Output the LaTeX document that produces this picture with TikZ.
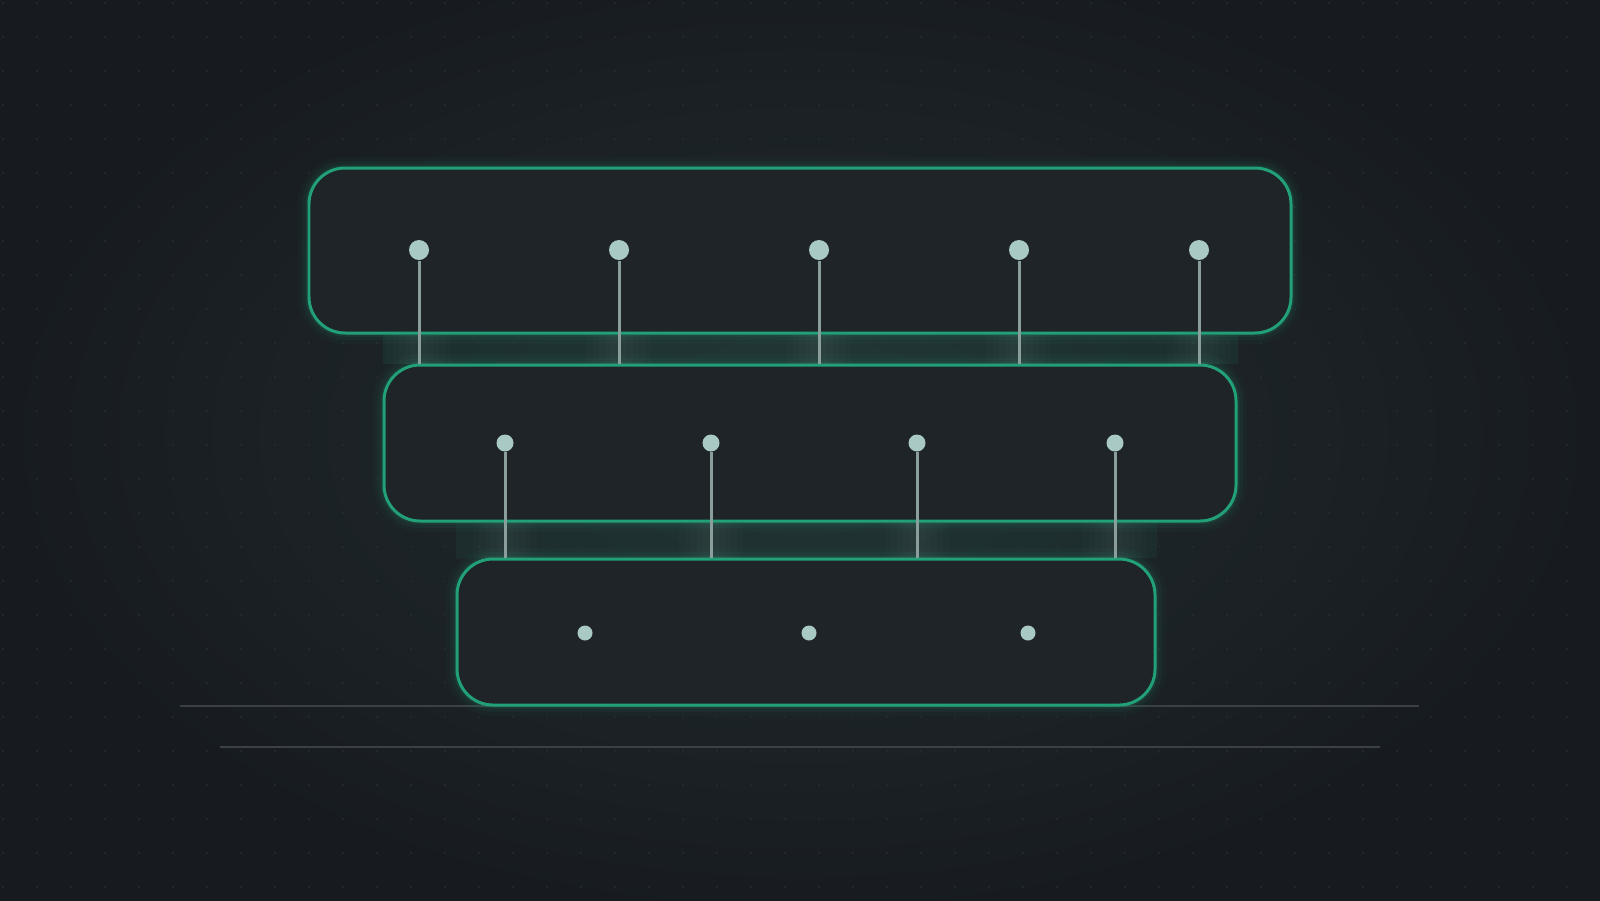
\documentclass[tikz,border=0pt]{standalone}
\usepackage{tikz}
\usetikzlibrary{calc}

\definecolor{bgdark}{HTML}{171B1F}
\definecolor{bgglow}{HTML}{222C30}
\definecolor{griddot}{HTML}{262C31}
\definecolor{boxfill}{HTML}{1E2428}
\definecolor{boxgreen}{HTML}{22A077}
\definecolor{dotfill}{HTML}{A9C9C5}
\definecolor{linkgray}{HTML}{8A9E9C}
\definecolor{basegray}{HTML}{3A4045}

\tikzset{
  tier/.style={draw=boxgreen, line width=0.85pt, fill=boxfill, rounded corners=0.36cm,
    inner sep=0pt,
    preaction={draw=boxgreen, line width=0.22cm, opacity=0.04},
    preaction={draw=boxgreen, line width=0.14cm, opacity=0.06},
    preaction={draw=boxgreen, line width=0.07cm, opacity=0.12}},
  pin/.style={circle, fill=dotfill, inner sep=0pt, minimum size=#1},
  link/.style={draw=linkgray, line width=0.85pt},
  baseline/.style={draw=basegray, line width=0.55pt}
}

\begin{document}
\begin{tikzpicture}

 \useasboundingbox (0,0) rectangle (16,-9);
 \fill[bgdark] (0,0) rectangle (16,-9);
 \shade[inner color=bgglow, outer color=bgdark] (0,0.5) rectangle (16,-9.2);

 \foreach \i in {0,...,47}
  \foreach \j in {0,...,26}
   \fill[griddot] (0.03+0.34*\i,-0.03-0.34*\j) circle (0.012);

 \coordinate (b1w) at (1.80,-7.06);
 \coordinate (b1e) at (14.19,-7.06);
 \coordinate (b2w) at (2.20,-7.47);
 \coordinate (b2e) at (13.80,-7.47);
 \draw[baseline] (b1w) -- (b1e);
 \draw[baseline] (b2w) -- (b2e);

 \node[tier, minimum width=9.82cm, minimum height=1.65cm] (top) at (8.00,-2.505) {};
 \node[tier, minimum width=8.52cm, minimum height=1.56cm] (mid) at (8.10,-4.43) {};
 \node[tier, minimum width=6.98cm, minimum height=1.46cm] (low) at (8.06,-6.32) {};

 \fill[boxgreen, opacity=0.10] (mid.west |- top.south) rectangle (mid.east |- mid.north);
 \fill[boxgreen, opacity=0.08] (low.west |- mid.south) rectangle (low.east |- low.north);

 \node[pin=0.20cm] (t1) at (4.19,-2.50) {};
 \node[pin=0.20cm] (t2) at (6.19,-2.50) {};
 \node[pin=0.20cm] (t3) at (8.19,-2.50) {};
 \node[pin=0.20cm] (t4) at (10.19,-2.50) {};
 \node[pin=0.20cm] (t5) at (11.99,-2.50) {};

 \node[pin=0.17cm] (m1) at (5.05,-4.43) {};
 \node[pin=0.17cm] (m2) at (7.11,-4.43) {};
 \node[pin=0.17cm] (m3) at (9.17,-4.43) {};
 \node[pin=0.17cm] (m4) at (11.15,-4.43) {};

 \node[pin=0.15cm] (l1) at (5.85,-6.33) {};
 \node[pin=0.15cm] (l2) at (8.09,-6.33) {};
 \node[pin=0.15cm] (l3) at (10.28,-6.33) {};

 \foreach \p in {t1,t2,t3,t4,t5} {
  \foreach \w in {0.32,0.26,0.20,0.14,0.08}
   \fill[white, opacity=0.012] ($(\p |- top.south)+(-\w,0)$) rectangle ($(\p |- mid.north)+(\w,0)$);
  \draw[link] (\p) -- (\p |- mid.north);
 }
 \foreach \p in {m1,m2,m3,m4} {
  \foreach \w in {0.32,0.26,0.20,0.14,0.08}
   \fill[white, opacity=0.012] ($(\p |- mid.south)+(-\w,0)$) rectangle ($(\p |- low.north)+(\w,0)$);
  \draw[link] (\p) -- (\p |- low.north);
 }

\end{tikzpicture}
\end{document}
